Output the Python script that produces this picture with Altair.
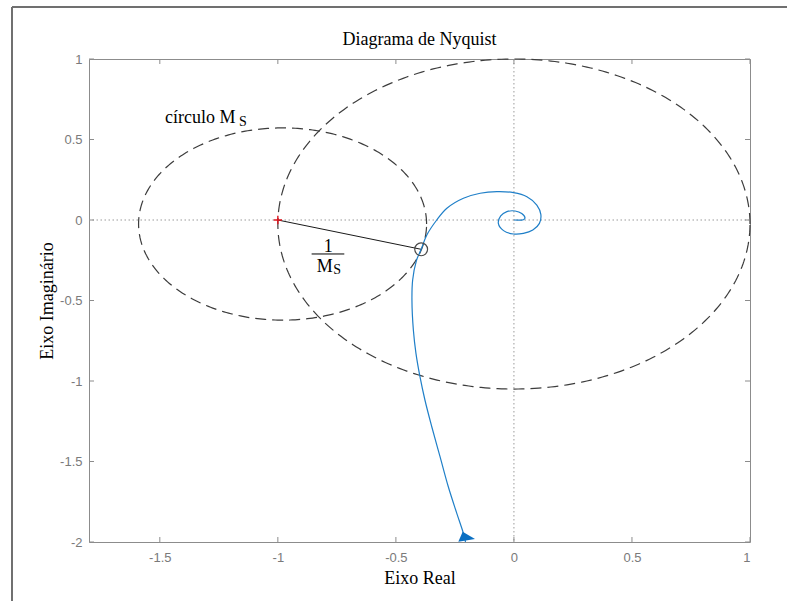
import altair as alt
import numpy as np
import pandas as pd

# ---- data ----
nyq_re = [-0.205, -0.214, -0.242, -0.278, -0.313, -0.348, -0.377, -0.398, -0.415, -0.426,
          -0.432, -0.429, -0.413, -0.393, -0.369, -0.327, -0.284, -0.214, -0.143, -0.072,
          -0.002, 0.055, 0.097, 0.114, 0.108, 0.080, 0.040, -0.002, -0.044, -0.066,
          -0.056, -0.030, 0.005, 0.033, 0.047, 0.040, 0.0]
nyq_im = [-2.000, -1.946, -1.822, -1.657, -1.470, -1.284, -1.118, -0.973, -0.828, -0.683,
          -0.497, -0.373, -0.252, -0.182, -0.093, 0.000, 0.073, 0.135, 0.166, 0.176,
          0.170, 0.145, 0.093, 0.035, -0.021, -0.062, -0.083, -0.087, -0.066, -0.021,
          0.025, 0.052, 0.056, 0.040, 0.012, 0.002, 0.0]

big_center = [0.0, -0.025]
big_radius = [1.0, 1.025]
ms_center = [-0.98, -0.025]
ms_radius = [0.61, 0.597]

critical_pt = [-1.0, 0.0]
closest_pt = [-0.393, -0.182]
arrow_pt = [-0.206, -1.972]

x_ticks = [-1.5, -1, -0.5, 0, 0.5, 1]
y_ticks = [-2, -1.5, -1, -0.5, 0, 0.5, 1]

title_text = "Diagrama de Nyquist"
x_title = "Eixo Real"
y_title = "Eixo Imaginário"

# ---- layout ----
W, H = 661, 483
PAD_L, PAD_T, PAD_R, PAD_B = 89, 59, 37, 59
SERIF = "Liberation Serif"
SANS = "Liberation Sans"
GRAY = "#7a7a7a"

xs = alt.Scale(domain=[-1.8, 1], nice=False, zero=False)
ys = alt.Scale(domain=[-2, 1], nice=False, zero=False)
xaxis = alt.Axis(title=x_title, values=x_ticks, grid=False, ticks=False, tickSize=0, domain=False,
                 labelExpr="'' + datum.value", labelFont=SANS, labelFontSize=13, labelColor=GRAY,
                 labelPadding=9, titleFont=SERIF, titleFontSize=18, titleFontWeight="normal",
                 titleColor="black", titlePadding=5)
yaxis = alt.Axis(title=y_title, values=y_ticks, grid=False, ticks=False, tickSize=0, domain=False,
                 labelExpr="'' + datum.value", labelFont=SANS, labelFontSize=13, labelColor=GRAY,
                 labelPadding=7, titleFont=SERIF, titleFontSize=18, titleFontWeight="normal",
                 titleColor="black", titlePadding=3)
X = alt.X("x:Q", scale=xs, axis=xaxis)
Y = alt.Y("y:Q", scale=ys, axis=yaxis)


def ellipse(center, radius, n=361):
    t = np.linspace(0, 2 * np.pi, n)
    return pd.DataFrame({"x": center[0] + radius[0] * np.cos(t),
                         "y": center[1] + radius[1] * np.sin(t),
                         "i": np.arange(n)})


nyq_df = pd.DataFrame({"x": nyq_re, "y": nyq_im, "i": range(len(nyq_re))})
big_df = ellipse(big_center, big_radius)
ms_df = ellipse(ms_center, ms_radius)
zero_df = pd.DataFrame({"x": [0.0], "y": [0.0]})
one_df = pd.DataFrame({"k": [0]})

# zero lines
vzero = alt.Chart(zero_df).mark_rule(color="#9a9a9a", strokeDash=[1.5, 2.5], strokeWidth=1).encode(x=X)
hzero = alt.Chart(zero_df).mark_rule(color="#9a9a9a", strokeDash=[1.5, 2.5], strokeWidth=1).encode(y=Y)

# inward ticks
xt = pd.DataFrame({"x": x_ticks})
yt = pd.DataFrame({"y": y_ticks})
tick_style = dict(color="#8c8c8c", strokeWidth=1)
xt_b = alt.Chart(xt).mark_rule(**tick_style).encode(x=X, y=alt.value(H), y2=alt.value(H - 5))
xt_t = alt.Chart(xt).mark_rule(**tick_style).encode(x=X, y=alt.value(0), y2=alt.value(5))
yt_l = alt.Chart(yt).mark_rule(**tick_style).encode(y=Y, x=alt.value(0), x2=alt.value(5))
yt_r = alt.Chart(yt).mark_rule(**tick_style).encode(y=Y, x=alt.value(W), x2=alt.value(W - 5))

# dashed circles
dash = dict(color="#3c3c3c", strokeWidth=1.2, strokeDash=[11, 6])
big = alt.Chart(big_df).mark_line(**dash).encode(x=X, y=Y, order="i:Q")
ms = alt.Chart(ms_df).mark_line(**dash).encode(x=X, y=Y, order="i:Q")

# radius line -1 -> closest point
seg_df = pd.DataFrame({"x": [critical_pt[0], closest_pt[0]], "y": [critical_pt[1], closest_pt[1]], "i": [0, 1]})
seg = alt.Chart(seg_df).mark_line(color="#1a1a1a", strokeWidth=1).encode(x=X, y=Y, order="i:Q")

# nyquist curve
nyq = alt.Chart(nyq_df).mark_line(color="#1f7fc8", strokeWidth=1.2, interpolate="catmull-rom").encode(
    x=X, y=Y, order="i:Q")

# arrow
arr_df = pd.DataFrame({"x": [arrow_pt[0]], "y": [arrow_pt[1]]})
arrow = alt.Chart(arr_df).mark_point(shape="M-0.27,-0.6L-0.72,0.43L1,0.15Z", filled=True,
                                     color="#0a6fc2", opacity=1, size=376).encode(x=X, y=Y)

# markers
crit_df = pd.DataFrame({"x": [critical_pt[0]], "y": [critical_pt[1]]})
crit = alt.Chart(crit_df).mark_point(shape="M-1,0L1,0M0,-1L0,1", filled=False, color="#e0141e",
                                     strokeWidth=1.4, size=70, opacity=1).encode(x=X, y=Y)
cl_df = pd.DataFrame({"x": [closest_pt[0]], "y": [closest_pt[1]]})
clm = alt.Chart(cl_df).mark_point(shape="circle", filled=False, color="#4a4a4a",
                                  strokeWidth=1.2, size=165, opacity=1).encode(x=X, y=Y)

# annotations
lab1 = alt.Chart(pd.DataFrame({"x": [-1.478], "y": [0.600], "t": ["círculo M"]})).mark_text(
    align="left", baseline="alphabetic", font=SERIF, fontSize=18, color="black").encode(x=X, y=Y, text="t:N")
lab1s = alt.Chart(pd.DataFrame({"x": [-1.165], "y": [0.583], "t": ["S"]})).mark_text(
    align="left", baseline="alphabetic", font=SERIF, fontSize=14, color="black").encode(x=X, y=Y, text="t:N")
num = alt.Chart(pd.DataFrame({"x": [-0.787], "y": [-0.200], "t": ["1"]})).mark_text(
    align="center", baseline="alphabetic", font=SERIF, fontSize=18, color="black").encode(x=X, y=Y, text="t:N")
bar_df = pd.DataFrame({"x": [-0.857], "x2": [-0.7185], "y": [-0.211]})
bar = alt.Chart(bar_df).mark_rule(color="black", strokeWidth=1).encode(x=X, x2="x2:Q", y=Y)
den = alt.Chart(pd.DataFrame({"x": [-0.835], "y": [-0.321], "t": ["M"]})).mark_text(
    align="left", baseline="alphabetic", font=SERIF, fontSize=18, color="black").encode(x=X, y=Y, text="t:N")
dens = alt.Chart(pd.DataFrame({"x": [-0.765], "y": [-0.335], "t": ["S"]})).mark_text(
    align="left", baseline="alphabetic", font=SERIF, fontSize=14, color="black").encode(x=X, y=Y, text="t:N")

# title as text
ttl = alt.Chart(pd.DataFrame({"t": [title_text]})).mark_text(
    align="center", baseline="alphabetic", font=SERIF, fontSize=18, color="black").encode(
    x=alt.value(W / 2), y=alt.value(-14), text="t:N")

# figure frame (left and top edges)
frame_l = alt.Chart(one_df).mark_rule(color="#111111", strokeWidth=1.2).encode(
    x=alt.value(12 - PAD_L), y=alt.value(7 - PAD_T), y2=alt.value(H + PAD_B))
frame_t = alt.Chart(one_df).mark_rule(color="#707070", strokeWidth=2).encode(
    y=alt.value(7 - PAD_T), x=alt.value(12 - PAD_L), x2=alt.value(W + PAD_R))

chart = alt.layer(
    vzero, hzero, big, ms, seg, nyq, arrow, crit, clm,
    xt_b, xt_t, yt_l, yt_r,
    lab1, lab1s, num, bar, den, dens, ttl, frame_l, frame_t,
).properties(
    width=W, height=H,
    autosize=alt.AutoSizeParams(type="none"),
    padding={"left": PAD_L, "top": PAD_T, "right": PAD_R, "bottom": PAD_B},
    background="white",
).configure_view(stroke="#8c8c8c", strokeWidth=1)

chart.save("out.html", embed_options={"renderer": "svg", "actions": False})
